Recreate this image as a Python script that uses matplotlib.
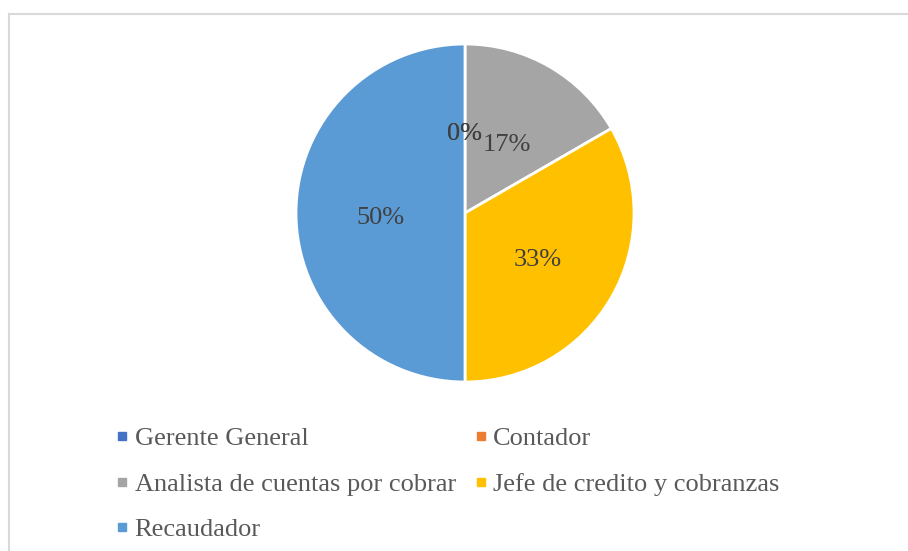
import matplotlib.pyplot as plt
import matplotlib.transforms as mtransforms
from matplotlib.lines import Line2D

plt.rcParams['font.family'] = ['Liberation Serif', 'DejaVu Serif']

categories = ['Gerente General', 'Contador', 'Analista de cuentas por cobrar',
              'Jefe de credito y cobranzas', 'Recaudador']
values = [0, 0, 1, 2, 3]
colors = ['#4472C4', '#ED7D31', '#A5A5A5', '#FFC000', '#5B9BD5']

fig = plt.figure(figsize=(9.08, 5.51), dpi=100)

# borde gris del area del grafico
fig.add_artist(Line2D([9 / 908, 1.0], [1 - 13.5 / 551] * 2, color='#D9D9D9', lw=1.5))
fig.add_artist(Line2D([9 / 908] * 2, [0.0, 1 - 13.5 / 551], color='#D9D9D9', lw=1.5))

# pastel centrado en (465, 213) px, radio 169 px
cx, cy, r = 465, 213, 169
ax = fig.add_axes([(cx - r) / 908, (551 - cy - r) / 551, 2 * r / 908, 2 * r / 551])
wedges, texts, autotexts = ax.pie(values, colors=colors, startangle=90, counterclock=False,
                                  autopct='%1.0f%%', pctdistance=0.5,
                                  wedgeprops=dict(edgecolor='white', linewidth=2),
                                  textprops=dict(color='#404040', fontsize=19))
shift = mtransforms.offset_copy(ax.transData, fig=fig, x=0, y=-2.5, units='dots')
for t in autotexts:
    t.set_va('center_baseline')
    t.set_transform(shift)
ax.set_xlim(-1, 1)
ax.set_ylim(-1, 1)
ax.set_aspect('equal')

# leyenda en dos columnas, orden por filas
order = [0, 2, 4, 1, 3]
handles = [Line2D([], [], marker='s', linestyle='none', markersize=6,
                  markerfacecolor=colors[i], markeredgecolor=colors[i]) for i in order]
labels = [categories[i] for i in order]
leg = fig.legend(handles, labels, ncol=2, loc='upper left', bbox_to_anchor=(114 / 908, 1 - 427 / 551),
                 frameon=False, fontsize=19, labelcolor='#595959', handlelength=0.6,
                 handletextpad=0.18, columnspacing=0.64, labelspacing=0.83, borderpad=0,
                 borderaxespad=0)

fig.savefig('out.png', dpi=100)
